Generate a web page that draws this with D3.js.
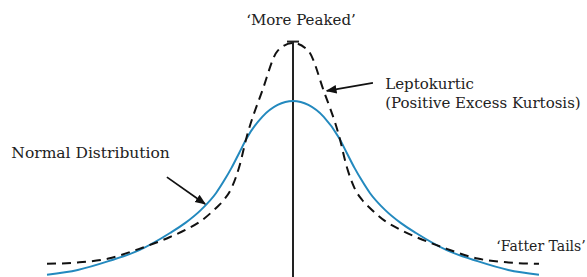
<!DOCTYPE html>
<html>
<head>
<meta charset="utf-8">
<script src="https://cdn.jsdelivr.net/npm/d3@7"></script>
<style>
  html, body { margin: 0; padding: 0; background: #fff; }
</style>
</head>
<body>
<div id="chart"></div>
<script>
// z values (standard deviations from the mean)
const zValues = [-4, -3.5, -3, -2.5, -2, -1.75, -1.5, -1.25, -1.125, -1, -0.875, -0.75, -0.5, -0.25, 0,
                 0.25, 0.5, 0.75, 0.875, 1, 1.125, 1.25, 1.5, 1.75, 2, 2.5, 3, 3.5, 4]

const normalDensity = [0.005, 0.016, 0.036, 0.061, 0.100, 0.123, 0.152, 0.191, 0.218, 0.248, 0.282, 0.316, 0.364, 0.391, 0.400,
                       0.391, 0.364, 0.316, 0.282, 0.248, 0.218, 0.191, 0.152, 0.123, 0.100, 0.061, 0.036, 0.016, 0.005]
const leptoDensity  = [0.030, 0.033, 0.042, 0.064, 0.091, 0.107, 0.127, 0.157, 0.175, 0.202, 0.250, 0.320, 0.423, 0.514, 0.532,
                       0.514, 0.423, 0.320, 0.250, 0.202, 0.175, 0.157, 0.127, 0.107, 0.091, 0.064, 0.042, 0.033, 0.030]

const labels = [
  { text: "\u2018More Peaked\u2019", z: 0.13, v: 0.572, anchor: "middle", size: 15 },
  { text: "Leptokurtic", z: 1.50, v: 0.428, anchor: "start", size: 15 },
  { text: "(Positive Excess Kurtosis)", z: 1.50, v: 0.385, anchor: "start", size: 15 },
  { text: "Normal Distribution", z: -4.58, v: 0.270, anchor: "start", size: 15.5 },
  { text: "\u2018Fatter Tails\u2019", z: 4.76, v: 0.060, anchor: "end", size: 14 }
]

const arrows = [
  { from: [-2.05, 0.227], to: [-1.43, 0.166] },
  { from: [1.30, 0.441], to: [0.55, 0.423] }
]

const width = 587, height = 277
const serif = "'DejaVu Serif', serif"

const x = d3.scaleLinear().domain([-4, 4]).range([47, 539])
const y = d3.scaleLinear().domain([0, 0.6]).range([277, 13])

const svg = d3.select("#chart").append("svg")
  .attr("width", width)
  .attr("height", height)
  .attr("viewBox", `0 0 ${width} ${height}`)

svg.append("defs").append("marker")
  .attr("id", "arrowhead")
  .attr("viewBox", "0 0 10 10")
  .attr("refX", 9).attr("refY", 5)
  .attr("markerWidth", 6).attr("markerHeight", 6)
  .attr("markerUnits", "strokeWidth")
  .attr("orient", "auto")
  .append("path")
  .attr("d", "M0,1 L10,5 L0,9 Z")
  .attr("fill", "#111")

// vertical axis through the mean
const axisTop = y(0.535)
svg.append("line")
  .attr("x1", x(0)).attr("x2", x(0))
  .attr("y1", axisTop).attr("y2", height)
  .attr("stroke", "#222").attr("stroke-width", 2)
svg.append("line")
  .attr("x1", x(0) - 6).attr("x2", x(0) + 6)
  .attr("y1", axisTop).attr("y2", axisTop)
  .attr("stroke", "#222").attr("stroke-width", 2)

const line = d3.line()
  .x(d => x(d[0]))
  .y(d => y(d[1]))
  .curve(d3.curveMonotoneX)

svg.append("path")
  .datum(d3.zip(zValues, normalDensity))
  .attr("fill", "none")
  .attr("stroke", "#2389be")
  .attr("stroke-width", 2)
  .attr("d", line)

svg.append("path")
  .datum(d3.zip(zValues, leptoDensity))
  .attr("fill", "none")
  .attr("stroke", "#111")
  .attr("stroke-width", 2)
  .attr("stroke-dasharray", "9,6")
  .attr("d", line)

svg.selectAll(".arrow")
  .data(arrows)
  .join("line")
  .attr("class", "arrow")
  .attr("x1", d => x(d.from[0])).attr("y1", d => y(d.from[1]))
  .attr("x2", d => x(d.to[0])).attr("y2", d => y(d.to[1]))
  .attr("stroke", "#111")
  .attr("stroke-width", 1.8)
  .attr("marker-end", "url(#arrowhead)")

svg.selectAll(".label")
  .data(labels)
  .join("text")
  .attr("class", "label")
  .attr("x", d => x(d.z))
  .attr("y", d => y(d.v))
  .attr("text-anchor", d => d.anchor)
  .attr("font-family", serif)
  .attr("font-size", d => d.size)
  .attr("fill", "#222")
  .text(d => d.text)
</script>
</body>
</html>
